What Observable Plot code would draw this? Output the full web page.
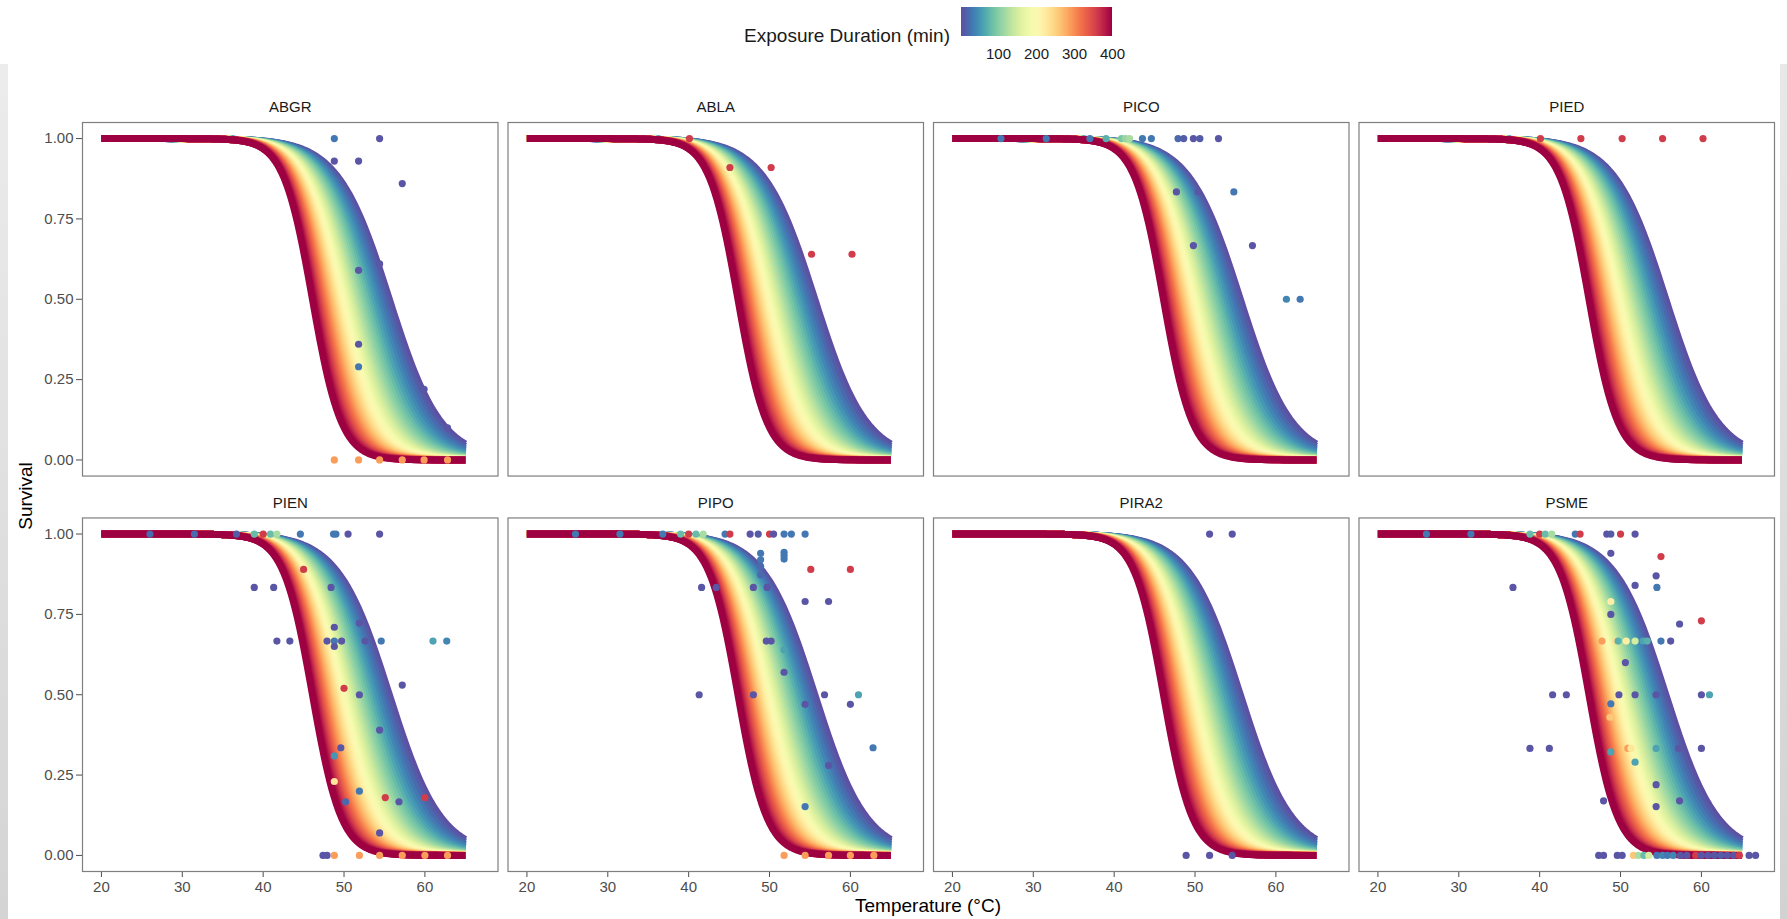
<!DOCTYPE html>
<html>
<head>
<meta charset="utf-8">
<script src="https://cdn.jsdelivr.net/npm/d3@7"></script>
<script src="https://cdn.jsdelivr.net/npm/@observablehq/plot@0.6"></script>
<style>
  html, body { margin: 0; padding: 0; background: #fff; overflow: hidden; width: 1787px; height: 919px; }
  #root { position: relative; width: 1787px; height: 919px; overflow: hidden; font-family: "Liberation Sans", Arial, Helvetica, sans-serif; background: #fff; }
  .abs { position: absolute; }
  #ytitle { left: 26px; top: 496px; transform: translate(-50%, -50%) rotate(-90deg); font-size: 19px; color: #000; white-space: nowrap; line-height: 22px; }
  #xtitle { left: 928px; top: 906px; transform: translate(-50%, -50%); font-size: 19px; color: #000; white-space: nowrap; line-height: 22px; }
  #legtitle { left: 0; width: 950px; top: 25px; height: 22px; line-height: 22px; text-align: right; font-size: 19px; color: #1a1a1a; white-space: nowrap; }
  #bandL { left: 0; top: 64px; width: 8px; height: 855px; background: linear-gradient(#ececec, #d4d4d4); }
  #bandR { left: 1780px; top: 64px; width: 7px; height: 855px; background: linear-gradient(#e8e8e8, #d2d2d2); }
</style>
</head>
<body>
<div id="root"></div>
<script>
// ---------------- data ----------------
const species = ["ABGR", "ABLA", "PICO", "PIED", "PIEN", "PIPO", "PIRA2", "PSME"];

// exposure durations (min) of the fitted prediction curves
const durations = [1, 10, 20, 30, 40, 50, 60, 70, 80, 90, 100, 110, 120, 130, 140, 150, 160, 170, 180, 190, 200,
  210, 220, 230, 240, 250, 260, 270, 280, 290, 300, 310, 320, 330, 340, 350, 360, 370, 380, 390, 400];

// logistic fit: logit(S) = b0 + bT*T + bD*D + bTD*T*D
const fitIntercept = 17.44;
const fitTemp = -0.3134;
const fitDur = 0.02095;
const fitTempDur = -0.000617;
const curveTempMin = 20, curveTempMax = 65;

// observed points: [temperature, survival, duration]
const ABGR = [[48.8,1,30],[54.4,1,5],[48.8,0.93,5],[51.8,0.93,5],[57.2,0.86,5],[54.4,0.61,5],[51.8,0.59,5],
  [51.8,0.36,5],[51.8,0.29,30],[59.9,0.22,5],[62.8,0.10,5],
  [48.8,0,290],[51.8,0,290],[54.4,0,290],[57.2,0,290],[59.9,0,290],[62.8,0,290]];
const ABLA = [[40.1,1,360],[45.1,0.91,360],[50.2,0.91,360],[55.2,0.64,360],[60.2,0.64,360]];
const PICO = [[26.0,1,30],[31.6,1,30],[37.0,1,30],[39.0,1,70],[40.9,1,90],[41.4,1,110],[41.9,1,120],[43.5,1,30],
  [44.6,1,30],[47.9,1,20],[48.6,1,10],[49.8,1,5],[50.6,1,10],[52.9,1,5],
  [47.7,0.834,5],[50.4,0.834,5],[54.8,0.834,30],[49.8,0.667,5],[57.1,0.667,5],[61.3,0.5,40],[63.0,0.5,30]];
const PIED = [[40.1,1,360],[45.1,1,360],[50.2,1,360],[55.2,1,360],[60.2,1,360]];
const PIEN = [[26.0,1,20],[31.5,1,20],[36.7,1,10],[38.9,1,80],[40.0,1,360],[40.9,1,80],[41.7,1,120],[44.6,1,30],
  [48.7,1,30],[49.0,1,30],[50.5,1,5],[54.4,1,5],
  [45.0,0.89,360],[38.9,0.834,5],[41.3,0.834,5],[48.4,0.834,5],[51.9,0.723,5],[48.8,0.71,5],
  [41.7,0.667,5],[43.3,0.667,5],[47.9,0.667,5],[48.8,0.667,30],[49.7,0.667,5],[52.6,0.667,5],[54.6,0.667,30],
  [61.0,0.667,60],[62.7,0.667,40],[48.8,0.65,5],[57.2,0.53,5],[50.0,0.52,360],[51.9,0.50,5],[54.4,0.39,5],
  [49.6,0.335,5],[48.8,0.31,50],[48.8,0.23,230],[51.9,0.20,30],[55.1,0.18,360],[60.0,0.18,360],
  [50.2,0.167,20],[56.8,0.167,5],[54.4,0.07,5],
  [47.4,0,5],[47.9,0,5],[48.8,0,290],[51.9,0,290],[54.4,0,290],[57.2,0,290],[60.0,0,290],[62.8,0,290]];
const PIPO = [[26.0,1,30],[31.5,1,30],[36.8,1,30],[39.0,1,80],[40.0,1,360],[40.9,1,80],[41.8,1,120],[44.5,1,30],
  [45.1,1,360],[47.6,1,5],[48.6,1,10],[50.0,1,360],[50.5,1,5],[51.8,1,30],[52.7,1,30],[54.4,1,30],
  [48.9,0.94,30],[48.9,0.92,30],[48.9,0.90,20],[48.9,0.873,20],[51.8,0.943,30],[51.8,0.933,30],[51.8,0.922,30],
  [55.1,0.89,360],[60.0,0.89,360],[41.6,0.834,5],[43.4,0.834,5],[48.0,0.834,5],[49.7,0.834,5],
  [54.4,0.79,5],[57.3,0.79,5],[49.6,0.667,5],[50.2,0.667,5],[51.8,0.64,60],[51.8,0.57,5],
  [41.3,0.50,5],[48.0,0.50,5],[56.8,0.50,5],[61.0,0.50,60],[54.4,0.47,5],[60.0,0.47,5],
  [62.8,0.335,30],[57.3,0.28,5],[54.4,0.152,30],
  [51.8,0,290],[54.4,0,290],[57.3,0,290],[60.0,0,290],[62.9,0,290]];
const PIRA2 = [[51.8,1,5],[54.6,1,5],[48.9,0,5],[51.8,0,5],[54.6,0,5]];
const PSME = [[26.0,1,30],[31.5,1,30],[38.8,1,80],[40.0,1,360],[40.7,1,80],[41.5,1,120],[44.4,1,30],[45.0,1,360],
  [48.3,1,5],[48.8,1,10],[50.0,1,360],[51.8,1,5],
  [48.8,0.94,5],[55.0,0.93,360],[54.4,0.87,5],[51.8,0.84,5],[54.5,0.834,30],[36.7,0.834,5],
  [48.8,0.79,220],[48.8,0.75,5],[57.3,0.72,5],[60.0,0.73,360],
  [47.7,0.667,290],[49.4,0.667,240],[49.7,0.667,70],[50.7,0.667,220],[51.8,0.667,150],[52.8,0.667,60],
  [53.3,0.667,70],[55.0,0.667,30],[56.2,0.667,5],[50.6,0.60,5],
  [41.6,0.5,5],[43.3,0.5,5],[49.8,0.5,5],[51.8,0.5,5],[54.4,0.5,5],[60.0,0.5,5],[61.0,0.5,60],
  [48.8,0.472,30],[48.7,0.43,260],
  [38.8,0.333,5],[41.2,0.333,5],[48.8,0.322,60],[50.9,0.333,290],[51.3,0.333,230],[54.4,0.333,60],[57.2,0.333,5],[60.0,0.333,5],
  [51.8,0.29,60],[54.4,0.22,5],[47.9,0.17,5],[54.4,0.152,5],[57.3,0.17,5],
  [47.3,0,5],[47.9,0,5],[49.6,0,5],[50.2,0,5],[51.6,0,260],[52.2,0,120],[52.9,0,80],[53.5,0,150],[54.5,0,30],
  [55.2,0,40],[55.8,0,30],[56.5,0,40],[57.4,0,5],[58.2,0,5],[59.3,0,360],[60.0,0,5],[60.8,0,5],[61.6,0,5],
  [62.4,0,10],[63.2,0,5],[64.0,0,5],[64.7,0,360],[65.9,0,5],[66.7,0,5]];

const observed = {ABGR, ABLA, PICO, PIED, PIEN, PIPO, PIRA2, PSME};
const yTicks = [0, 0.25, 0.5, 0.75, 1];
const xTicks = [20, 30, 40, 50, 60];
const legendTicks = [100, 200, 300, 400];

// ---------------- tables ----------------
const panels = species.map((name, i) => ({name, col: i % 4, row: Math.floor(i / 4)}));
const panelOf = Object.fromEntries(panels.map(p => [p.name, p]));

const points = [];
for (const name of species) {
  for (const [temp, surv, dur] of observed[name]) {
    points.push({name, temp, surv, dur, col: panelOf[name].col, row: panelOf[name].row});
  }
}

const tempGrid = d3.range(curveTempMin, curveTempMax + 1e-9, 0.25);
const curves = [];
for (const dur of durations) {
  for (const temp of tempGrid) {
    const logit = fitIntercept + fitDur * dur + (fitTemp + fitTempDur * dur) * temp;
    curves.push({temp, dur, surv: 1 / (1 + Math.exp(-logit))});
  }
}

const colorScale = {type: "linear", domain: [1, 400], scheme: "spectral", reverse: true};
const fontFamily = '"Liberation Sans", Arial, Helvetica, sans-serif';

// ---------------- chart ----------------
const chart = Plot.plot({
  width: 1787,
  height: 919,
  marginTop: 122,
  marginBottom: 48,
  marginLeft: 82,
  marginRight: 13,
  facet: {marginTop: 0, marginRight: 0, marginBottom: 0, marginLeft: 0},
  fx: {domain: [0, 1, 2, 3], paddingInner: 0.0235, paddingOuter: 0, round: false, axis: null},
  fy: {domain: [0, 1], paddingInner: 0.106, paddingOuter: 0, round: false, axis: null},
  x: {domain: [17.66, 69.04], ticks: xTicks, tickSize: 6, tickPadding: 4, label: null},
  y: {domain: [-0.05, 1.05], ticks: yTicks, tickFormat: d3.format(".2f"), tickSize: 6, tickPadding: 3, label: null},
  color: colorScale,
  style: {fontFamily, fontSize: "15px", color: "#4d4d4d", background: "white", overflow: "visible"},
  marks: [
    Plot.line(curves, {x: "temp", y: "surv", z: "dur", stroke: "dur", strokeWidth: 7,
      strokeLinecap: "butt", strokeLinejoin: "round"}),
    Plot.dot(points, {x: "temp", y: "surv", fx: "col", fy: "row", fill: "dur", r: 3.6, stroke: null}),
    Plot.frame({stroke: "#7f7f7f", strokeWidth: 1.2}),
    Plot.text(panels, {fx: "col", fy: "row", text: "name", frameAnchor: "top", dy: -15,
      lineAnchor: "middle", fill: "#1a1a1a", fontSize: 15})
  ]
});

const root = document.getElementById("root");
chart.classList.add("abs");
chart.style.left = "0px";
chart.style.top = "0px";
root.appendChild(chart);

// legend
const legend = Plot.legend({
  color: colorScale,
  label: null,
  width: 191,
  height: 65,
  marginTop: 7,
  marginBottom: 29,
  marginLeft: 20,
  marginRight: 20,
  ticks: legendTicks,
  tickSize: 9,
  style: {fontFamily, fontSize: "15px", color: "#1a1a1a", background: "transparent"}
});
d3.select(legend).selectAll(".tick line").remove();
legend.style.position = "absolute";
legend.style.left = "941px";
legend.style.top = "0px";
root.appendChild(legend);

function addDiv(id, text) {
  const el = document.createElement("div");
  el.id = id;
  el.className = "abs";
  if (text) el.textContent = text;
  root.appendChild(el);
}
addDiv("legtitle", "Exposure Duration (min)");
addDiv("xtitle", "Temperature (°C)");
addDiv("ytitle", "Survival");
addDiv("bandL");
addDiv("bandR");
</script>
</body>
</html>
